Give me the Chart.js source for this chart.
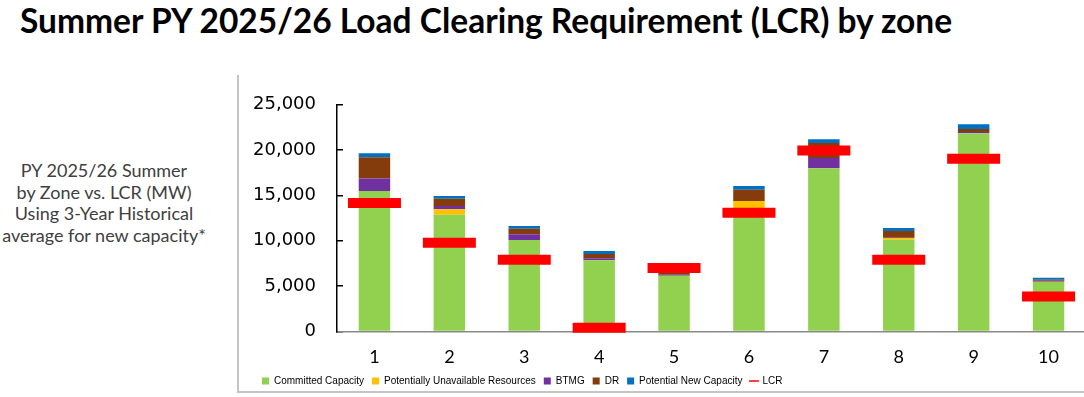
<!DOCTYPE html>
<html>
<head>
<meta charset="utf-8">
<script src="https://cdn.jsdelivr.net/npm/chart.js@4.4.1/dist/chart.umd.min.js"></script>
<style>
  html, body { margin: 0; padding: 0; width: 1084px; height: 397px; overflow: hidden; background: #fff; }
  #title { position: absolute; left: 20px; top: 0px; font: bold 33.5px Lato, sans-serif; color: #000; white-space: nowrap; }
  #side { position: absolute; left: -16px; width: 240px; top: 160px; text-align: center; font: 18px Lato, sans-serif; color: #404040; line-height: 21.7px; }
  #frame { position: absolute; left: 237px; top: 75px; width: 870px; height: 316px; border-left: 2px solid #c4c4c4; border-bottom: 2px solid #c4c4c4; }
  #wrap { position: absolute; left: 242px; top: 67px; width: 844px; height: 344px; }
</style>
</head>
<body>
<div id="title">Summer PY 2025/26 Load Clearing Requirement (LCR) by zone</div>
<div id="side">PY 2025/26 Summer<br>by Zone vs. LCR (MW)<br>Using 3-Year Historical<br>average for new capacity*</div>
<div id="frame"></div>
<div id="wrap"><canvas id="chart"></canvas></div>
<script>
const zones = ['1', '2', '3', '4', '5', '6', '7', '8', '9', '10'];
const committed = [15480, 12870, 10090, 7850, 6150, 13400, 18010, 10100, 21860, 5470];
const unavailable = [0, 600, 0, 0, 0, 1000, 0, 200, 0, 0];
const btmg = [1400, 360, 625, 220, 100, 0, 1130, 30, 150, 120];
const dr = [2345, 800, 615, 475, 250, 1240, 1650, 740, 330, 100];
const newCapacity = [440, 300, 300, 330, 0, 410, 400, 330, 520, 220];
const lcr = [14160, 9780, 7910, 400, 6990, 13080, 19970, 7910, 19050, 3840];

function barSet(label, data, color) {
  return {
    label,
    data,
    backgroundColor: color,
    borderWidth: 0,
    stack: 'zone',
    pointStyle: 'rect',
    barPercentage: 0.42,
    categoryPercentage: 1.0
  };
}

// pull the legend up closer to the zone labels
const legendShift = {
  id: 'legendShift',
  afterLayout(chart) {
    chart.legend.top -= 15;
    chart.legend.bottom -= 15;
  }
};

new Chart(document.getElementById('chart'), {
  type: 'bar',
  plugins: [legendShift],
  data: {
    labels: zones,
    datasets: [
      barSet('Committed Capacity', committed, '#92D050'),
      barSet('Potentially Unavailable Resources', unavailable, '#FFC000'),
      barSet('BTMG', btmg, '#7030A0'),
      barSet('DR', dr, '#843C0C'),
      barSet('Potential New Capacity', newCapacity, '#0070C0'),
      {
        type: 'line',
        label: 'LCR',
        data: lcr,
        showLine: false,
        pointStyle: 'line',
        pointRadius: 26.5,
        pointHoverRadius: 26.5,
        pointBorderWidth: 10,
        pointHoverBorderWidth: 10,
        borderColor: '#FF0000',
        backgroundColor: '#FF0000',
        pointBorderColor: '#FF0000',
        order: -1,
        clip: false
      }
    ]
  },
  options: {
    responsive: true,
    maintainAspectRatio: false,
    animation: false,
    layout: { autoPadding: false, padding: { top: 0, right: 0, bottom: 0, left: 12 } },
    plugins: {
      tooltip: { enabled: false },
      legend: {
        position: 'bottom',
        align: 'start',
        labels: {
          usePointStyle: true,
          boxWidth: 7,
          boxHeight: 7,
          padding: 8,
          color: '#000',
          font: { family: "'Liberation Sans', Arial, sans-serif", size: 10 },
          sort: (a, b) => a.datasetIndex - b.datasetIndex,
          generateLabels(chart) {
            const items = Chart.defaults.plugins.legend.labels.generateLabels(chart);
            items.forEach(item => {
              item.lineWidth = item.text === 'LCR' ? 1.5 : 0;
            });
            return items;
          }
        }
      }
    },
    scales: {
      x: {
        stacked: true,
        grid: { display: false, drawTicks: false },
        border: { color: '#898989', width: 1.5 },
        ticks: { color: '#000', padding: 15, font: { family: 'Lato', size: 18 } }
      },
      y: {
        stacked: true,
        min: 0,
        max: 25000,
        grid: { drawOnChartArea: false, drawTicks: true, tickLength: -6, color: '#000', lineWidth: 1.5 },
        border: { color: '#000', width: 1.5 },
        ticks: {
          stepSize: 5000,
          padding: 27,
          color: '#000',
          font: { family: 'DejaVu Sans', size: 18 },
          callback: v => v.toLocaleString('en-US')
        },
        afterFit: scale => { scale.width = 83; }
      }
    }
  }
});
</script>
</body>
</html>
